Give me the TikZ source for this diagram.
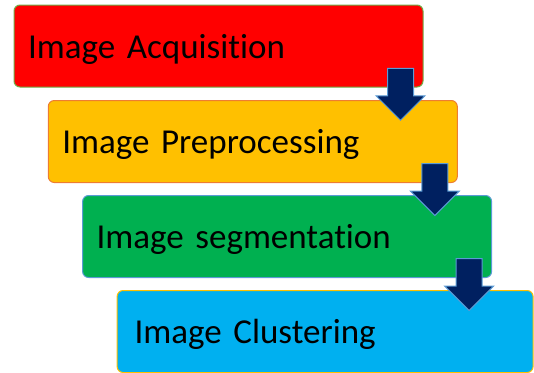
\documentclass[tikz,border=0pt]{standalone}
\usepackage{fontspec}
\setmainfont{Carlito}[Ligatures=CommonOff]
\usetikzlibrary{positioning}
\usetikzlibrary{calc}
\usetikzlibrary{shapes.arrows}
\definecolor{acqred}{HTML}{FF0000}
\definecolor{preorange}{HTML}{FFC000}
\definecolor{seggreen}{HTML}{00B050}
\definecolor{clublue}{HTML}{00B0F0}
\definecolor{acqedge}{HTML}{70AD47}
\definecolor{preedge}{HTML}{ED7D31}
\definecolor{segedge}{HTML}{5B9BD5}
\definecolor{cluedge}{HTML}{FFC000}
\definecolor{flowfill}{HTML}{002060}
\definecolor{flowedge}{HTML}{5B9BD5}
\newcommand{\stagefont}{\fontsize{35}{42}\selectfont\spaceskip=0.2em\relax}

\begin{document}
\begin{tikzpicture}[x=1pt,y=1pt,
  stage/.style={draw,rounded corners=6pt,line width=1pt,inner sep=0pt,
    minimum width=409pt,minimum height=82pt,text width=381pt,align=left,
    text height=25pt,text depth=1pt,font=\stagefont},
  flow/.style={single arrow,draw=flowedge,fill=flowfill,line width=1pt,
    inner xsep=0pt,inner ysep=12.5pt,rotate=-90,minimum height=52pt,
    single arrow head extend=11.5pt,anchor=tail}]
  \useasboundingbox (0,0) rectangle (534,-372);

  \node[stage,fill=acqred,draw=acqedge] (acq) at (218.5,-46) {Image Acquisition};
  \node[stage,fill=preorange,draw=preedge,below=12.5pt of acq,xshift=34.3pt] (pre) {Image Preprocessing};
  \node[stage,fill=seggreen,draw=segedge,below=12pt of pre,xshift=34.3pt] (seg) {Image segmentation};
  \node[stage,fill=clublue,draw=cluedge,below=12pt of seg,xshift=38pt,minimum width=416pt] (clu) {Image Clustering};

  \node[flow] (f1) at ($(acq.south east)!.5!(acq.east |- pre.north)+(-23pt,26pt)$) {};
  \node[flow] (f2) at ($(pre.south east)!.5!(pre.east |- seg.north)+(-23pt,26pt)$) {};
  \node[flow] (f3) at ($(seg.south east)!.5!(seg.east |- clu.north)+(-23pt,26pt)$) {};
\end{tikzpicture}
\end{document}
